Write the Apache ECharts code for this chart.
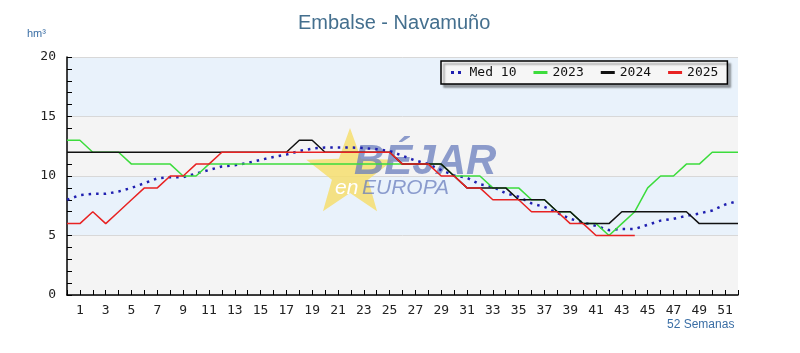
<!DOCTYPE html>
<html>
<head>
<meta charset="utf-8">
<script src="https://cdn.jsdelivr.net/npm/echarts@6/dist/echarts.min.js"></script>
<style>
    html, body { margin: 0; padding: 0; background: #fff; }
    #embalseChart { width: 800px; height: 353px; }
</style>
</head>
<body>
<div id="embalseChart"></div>
<script>
    // semanas del año (0..52), solo se rotulan las impares
    const semanas = ['0', '1', '2', '3', '4', '5', '6', '7', '8', '9', '10', '11', '12', '13', '14', '15', '16', '17',
        '18', '19', '20', '21', '22', '23', '24', '25', '26', '27', '28', '29', '30', '31', '32', '33', '34', '35',
        '36', '37', '38', '39', '40', '41', '42', '43', '44', '45', '46', '47', '48', '49', '50', '51', '52'];

    // hm3 por semana
    const med10 = [8.0, 8.4, 8.5, 8.5, 8.7, 9.0, 9.4, 9.8, 9.9, 9.9,
        10.2, 10.5, 10.8, 10.9, 11.1, 11.35, 11.6, 11.8, 12.1, 12.3,
        12.4, 12.4, 12.4, 12.35, 12.25, 12.1, 11.7, 11.3, 11.0, 10.5,
        10.05, 9.85, 9.3, 9.1, 8.55, 8.25, 7.7, 7.4, 6.9, 6.4,
        6.1, 5.8, 5.45, 5.55, 5.55, 5.9, 6.25, 6.4, 6.65, 6.85,
        7.1, 7.6, 7.9];
    const y2023 = [13, 13, 12, 12, 12, 11, 11, 11, 11, 10,
        10, 11, 11, 11, 11, 11, 11, 11, 11, 11,
        11, 11, 11, 11, 11, 11, 11, 11, 11, 11,
        10, 10, 10, 9, 9, 9, 8, 8, 7, 7,
        6, 6, 5, 6, 7, 9, 10, 10, 11, 11,
        12, 12, 12];
    const y2024 = [12, 12, 12, 12, 12, 12, 12, 12, 12, 12,
        12, 12, 12, 12, 12, 12, 12, 12, 13, 13,
        12, 12, 12, 12, 12, 12, 11, 11, 11, 11,
        10, 9, 9, 9, 9, 8, 8, 8, 7, 7,
        6, 6, 6, 7, 7, 7, 7, 7, 7, 6,
        6, 6, 6];
    const y2025 = [6, 6, 7, 6, 7, 8, 9, 9, 10, 10,
        11, 11, 12, 12, 12, 12, 12, 12, 12, 12,
        12, 12, 12, 12, 12, 12, 11, 11, 11, 10,
        10, 9, 9, 8, 8, 8, 7, 7, 7, 6,
        6, 5, 5, 5, 5];

    // estrella del logo de fondo
    function starPoints(cx, cy, R, r) {
        let pts = [];
        for (let i = 0; i < 10; i++) {
            let ang = -Math.PI / 2 + i * Math.PI / 5;
            let rad = i % 2 === 0 ? R : r;
            pts.push([cx + rad * Math.cos(ang), cy + rad * Math.sin(ang)]);
        }
        return pts;
    }

    const monoFont = 'DejaVu Sans Mono';

    let myChart = echarts.init(document.getElementById('embalseChart'));

    let option = {
        animation: false,
        title: {
            text: 'Embalse - Navamuño',
            left: 293,
            top: 8,
            textStyle: {
                fontFamily: 'Liberation Sans',
                fontSize: 20,
                fontWeight: 'normal',
                color: '#446f8e'
            }
        },
        legend: {
            data: [
                {name: 'Med 10', icon: 'path://M1,0h3v3h-3z M8,0h3v3h-3z M14,0h0.01v3h-0.01z'},
                {name: '2023', icon: 'rect'},
                {name: '2024', icon: 'rect'},
                {name: '2025', icon: 'rect'}
            ],
            left: 441,
            top: 61,
            padding: [5, 9, 5, 10],
            itemGap: 17,
            itemWidth: 14,
            itemHeight: 3,
            backgroundColor: '#f6f6f6',
            borderColor: '#000',
            borderWidth: 1.5,
            borderRadius: 0,
            shadowColor: 'rgba(0,0,0,0.35)',
            shadowBlur: 2,
            shadowOffsetX: 3,
            shadowOffsetY: 3,
            textStyle: {
                fontFamily: monoFont,
                fontSize: 13,
                color: '#111'
            }
        },
        grid: {
            left: 67,
            right: 62,
            top: 57,
            bottom: 58
        },
        xAxis: {
            type: 'category',
            boundaryGap: false,
            data: semanas,
            axisLine: {
                lineStyle: {color: '#000', width: 1.5}
            },
            axisTick: {
                inside: true,
                interval: 0,
                length: 5,
                lineStyle: {color: '#000'}
            },
            axisLabel: {
                interval: function (index) {
                    return index % 2 === 1;
                },
                margin: 9,
                fontFamily: monoFont,
                fontSize: 13,
                color: '#222'
            }
        },
        yAxis: {
            type: 'value',
            min: 0,
            max: 20,
            interval: 5,
            axisLine: {
                show: true,
                lineStyle: {color: '#000', width: 1.5}
            },
            axisTick: {
                show: true,
                inside: true,
                length: 5,
                lineStyle: {color: '#000'}
            },
            minorTick: {
                show: true,
                splitNumber: 5,
                length: 5,
                lineStyle: {color: '#000'}
            },
            axisLabel: {
                margin: 11,
                fontFamily: monoFont,
                fontSize: 13,
                color: '#222'
            },
            splitLine: {
                lineStyle: {color: '#d8d8d8'}
            },
            splitArea: {
                show: true,
                areaStyle: {color: ['#f4f4f4', '#e9f2fb']}
            }
        },
        graphic: [
            {
                type: 'text', left: 27, top: 28, z: 5,
                style: {text: 'hm³', fontFamily: 'Liberation Sans', fontSize: 11, fill: '#3a6ea5'}
            },
            {
                type: 'text', left: 667, top: 319, z: 5,
                style: {text: '52 Semanas', fontFamily: 'Liberation Sans', fontSize: 12, fill: '#3a6ea5'}
            },
            {
                type: 'polygon', z: 1, silent: true,
                shape: {points: starPoints(350, 174, 46, 19)},
                style: {fill: 'rgba(246, 222, 110, 0.85)'}
            },
            {
                type: 'text', left: 354, top: 141, z: 1, silent: true,
                style: {
                    text: 'BÉJAR', fontFamily: 'Liberation Sans', fontSize: 42,
                    fontWeight: 'bold', fontStyle: 'italic', fill: 'rgba(105, 125, 190, 0.75)'
                }
            },
            {
                type: 'text', left: 362, top: 178, z: 1, silent: true,
                style: {
                    text: 'EUROPA', fontFamily: 'Liberation Sans', fontSize: 21,
                    fontStyle: 'italic', fill: 'rgba(105, 125, 190, 0.75)'
                }
            },
            {
                type: 'text', left: 335, top: 178, z: 1, silent: true,
                style: {
                    text: 'en', fontFamily: 'Liberation Sans', fontSize: 21,
                    fontStyle: 'italic', fill: '#ffffff'
                }
            }
        ],
        series: [
            {
                name: 'Med 10',
                type: 'line',
                data: med10,
                symbol: 'none',
                color: '#1f1fb0',
                lineStyle: {width: 2.5, type: [2.5, 5], color: '#1f1fb0'}
            },
            {
                name: '2023',
                type: 'line',
                data: y2023,
                symbol: 'none',
                color: '#3cdc3c',
                lineStyle: {width: 1.5, color: '#3cdc3c'}
            },
            {
                name: '2024',
                type: 'line',
                data: y2024,
                symbol: 'none',
                color: '#111',
                lineStyle: {width: 1.5, color: '#111'}
            },
            {
                name: '2025',
                type: 'line',
                data: y2025,
                symbol: 'none',
                color: '#e82222',
                lineStyle: {width: 1.5, color: '#e82222'}
            }
        ]
    };

    myChart.setOption(option);
</script>
</body>
</html>
